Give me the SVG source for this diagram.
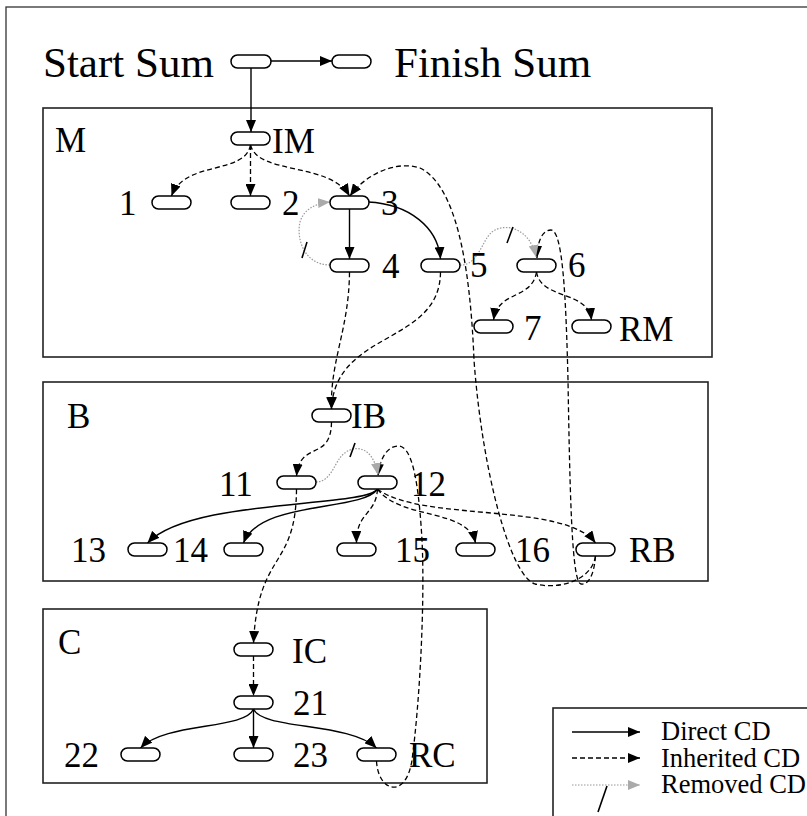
<svg xmlns="http://www.w3.org/2000/svg" width="807" height="816" viewBox="0 0 807 816">
<style>
.frame{fill:none;stroke:#333;stroke-width:1.3}
.box{fill:none;stroke:#222;stroke-width:1.6}
.n{fill:#fff;stroke:#000;stroke-width:1.5}
text{font-family:"Liberation Serif","Times New Roman",Times,"DejaVu Serif",serif;fill:#000}
.t{font-size:35px}
.big{font-size:43px}
.lg{font-size:26.5px}
.d{fill:none;stroke:#000;stroke-width:1.4;marker-end:url(#a)}
.i{fill:none;stroke:#000;stroke-width:1.3;stroke-dasharray:5 3;marker-end:url(#a)}
.r{fill:none;stroke:#999;stroke-width:1.2;stroke-dasharray:1.5 1.5;marker-end:url(#g)}
.s{stroke:#000;stroke-width:1.6}
</style>
<defs>
<marker id="a" viewBox="0 0 12 10" refX="12" refY="5" markerWidth="12" markerHeight="10" orient="auto" markerUnits="userSpaceOnUse"><path d="M0,0L12,5L0,10z" fill="#000"/></marker>
<marker id="g" viewBox="0 0 12 10" refX="12" refY="5" markerWidth="12" markerHeight="10" orient="auto" markerUnits="userSpaceOnUse"><path d="M0,0L12,5L0,10z" fill="#aaa"/></marker>
</defs>
<rect width="807" height="816" fill="#fff"/>
<rect class="frame" x="6" y="7" width="830" height="840"/>
<g id="boxes">
<rect class="box" x="43" y="108" width="669" height="249"/>
<rect class="box" x="43" y="382" width="665" height="199"/>
<rect class="box" x="43" y="609" width="444" height="174"/>
<text class="t" x="55" y="152">M</text>
<text class="t" x="67" y="428">B</text>
<text class="t" x="58" y="654">C</text>
</g>
<g id="connectors">
<path class="d" d="M271,61 H332"/>
<path class="d" d="M251,68 V132"/>
<path class="d" d="M349.5,209 V259"/>
<path class="d" d="M368,202 C410,204 438,228 440.5,259"/>
<path class="d" d="M377.5,489 C365,508 190,498 147.5,543"/>
<path class="d" d="M377.5,489 C362,512 260,500 243.5,543"/>
<path class="d" d="M253.5,709 C245,730 165,722 140.5,748"/>
<path class="d" d="M253.5,709 V748"/>
<path class="d" d="M253.5,709 C262,730 350,722 376.5,748"/>
<path class="i" d="M250.5,145 C245,175 185,160 171.5,196"/>
<path class="i" d="M250.5,145 V196"/>
<path class="i" d="M250.5,145 C258,175 330,162 349.5,196"/>
<path class="i" d="M349.5,272 C349,330 330,360 331.5,409"/>
<path class="i" d="M440.5,272 C440,345 335,330 331.5,409"/>
<path class="i" d="M331.5,422 C331,462 300,440 296.5,476"/>
<path class="i" d="M296.5,489 C296,570 258,550 253.5,643"/>
<path class="i" d="M253.5,656 V696"/>
<path class="i" d="M377.5,489 C376,515 356,512 356.5,543"/>
<path class="i" d="M377.5,489 C400,520 468,508 475.5,543"/>
<path class="i" d="M377.5,489 C420,522 565,502 595.5,543"/>
<path class="i" d="M536.5,272 C532,300 498,290 493.5,320"/>
<path class="i" d="M536.5,272 C541,300 588,290 591.5,320"/>
<path class="i" d="M376.5,761 C378,792 406,800 412,760 C420,700 425,600 422,540 C418,470 410,446 398,446 C386,446 379,462 378,476"/>
<path class="i" d="M595.5,556 C592,580 560,590 535,584 C510,576 482,470 474,360 C470,260 455,185 420,168 C395,160 365,175 350,196"/>
<path class="i" d="M595.5,556 C594,576 588,585 581,584 C572,583 570,500 568,380 C566,300 563,230 551,230 C541,230 537,245 537,258"/>
<path class="r" d="M330,265 C305,265 296,240 300,222 C304,208 318,203 330,202"/>
<line class="s" x1="302" y1="258" x2="307" y2="242"/>
<path class="r" d="M460,265 C478,266 482,240 492,232 C505,222 530,228 536,257"/>
<line class="s" x1="507" y1="243" x2="513" y2="227"/>
<path class="r" d="M316,482 C330,482 334,465 340,458 C348,446 372,440 378,475"/>
<line class="s" x1="350" y1="457" x2="355" y2="443"/>
</g>
<g id="start"><rect class="n" x="231" y="55" width="40" height="13" rx="6.5"/><text class="big" x="43" y="77">Start Sum</text></g>
<g id="finish"><rect class="n" x="332" y="55" width="39" height="13" rx="6.5"/><text class="big" x="394" y="77">Finish Sum</text></g>
<g id="IM"><rect class="n" x="231" y="132" width="39" height="13" rx="6.5"/><text class="t" x="272" y="153">IM</text></g>
<g id="n1"><rect class="n" x="152" y="196" width="39" height="13" rx="6.5"/><text class="t" x="119" y="215">1</text></g>
<g id="n2"><rect class="n" x="231" y="196" width="39" height="13" rx="6.5"/><text class="t" x="282" y="215">2</text></g>
<g id="n3"><rect class="n" x="330" y="196" width="39" height="13" rx="6.5"/><text class="t" x="381" y="215">3</text></g>
<g id="n4"><rect class="n" x="330" y="259" width="39" height="13" rx="6.5"/><text class="t" x="382" y="278">4</text></g>
<g id="n5"><rect class="n" x="421" y="259" width="39" height="13" rx="6.5"/><text class="t" x="470" y="277">5</text></g>
<g id="n6"><rect class="n" x="517" y="259" width="39" height="13" rx="6.5"/><text class="t" x="568" y="277">6</text></g>
<g id="n7"><rect class="n" x="474" y="320" width="39" height="13" rx="6.5"/><text class="t" x="524" y="340">7</text></g>
<g id="RM"><rect class="n" x="572" y="320" width="39" height="13" rx="6.5"/><text class="t" x="619" y="341">RM</text></g>
<g id="IB"><rect class="n" x="312" y="409" width="39" height="13" rx="6.5"/><text class="t" x="351" y="428">IB</text></g>
<g id="n11"><rect class="n" x="277" y="476" width="39" height="13" rx="6.5"/><text class="t" x="219" y="496">11</text></g>
<g id="n12"><rect class="n" x="358" y="476" width="39" height="13" rx="6.5"/><text class="t" x="411" y="496">12</text></g>
<g id="n13"><rect class="n" x="128" y="543" width="39" height="13" rx="6.5"/><text class="t" x="71" y="562">13</text></g>
<g id="n14"><rect class="n" x="224" y="543" width="39" height="13" rx="6.5"/><text class="t" x="173" y="562">14</text></g>
<g id="n15"><rect class="n" x="337" y="543" width="39" height="13" rx="6.5"/><text class="t" x="395" y="562">15</text></g>
<g id="n16"><rect class="n" x="456" y="543" width="39" height="13" rx="6.5"/><text class="t" x="515" y="562">16</text></g>
<g id="RB"><rect class="n" x="576" y="543" width="39" height="13" rx="6.5"/><text class="t" x="629" y="562">RB</text></g>
<g id="IC"><rect class="n" x="234" y="643" width="39" height="13" rx="6.5"/><text class="t" x="292" y="663">IC</text></g>
<g id="n21"><rect class="n" x="234" y="696" width="39" height="13" rx="6.5"/><text class="t" x="293" y="715">21</text></g>
<g id="n22"><rect class="n" x="121" y="748" width="39" height="13" rx="6.5"/><text class="t" x="64" y="767">22</text></g>
<g id="n23"><rect class="n" x="234" y="748" width="39" height="13" rx="6.5"/><text class="t" x="293" y="767">23</text></g>
<g id="RC"><rect class="n" x="357" y="748" width="39" height="13" rx="6.5"/><text class="t" x="409" y="767">RC</text></g>
<g id="legend">
<rect class="box" x="553" y="708" width="300" height="150" stroke-width="1.3"/>
<path class="d" d="M572,732 H640"/>
<path class="i" d="M572,758 H640"/>
<path class="r" d="M572,785 H640"/>
<line class="s" x1="598" y1="812" x2="607" y2="786"/>
<text class="lg" x="661" y="740">Direct CD</text>
<text class="lg" x="661" y="767">Inherited CD</text>
<text class="lg" x="661" y="793">Removed CD</text>
</g>
</svg>
